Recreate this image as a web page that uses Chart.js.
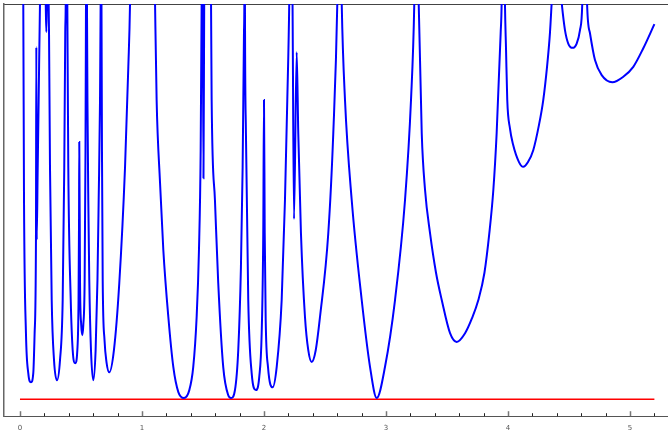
<!DOCTYPE html>
<html>
<head>
<meta charset="utf-8">
<script src="https://cdn.jsdelivr.net/npm/chart.js@4"></script>
<style>
html,body{margin:0;padding:0;background:#fff;}
#c{display:block;}
</style>
</head>
<body>
<canvas id="c" width="668" height="432"></canvas>
<script>
// Blue curve (values above 10 lie off the top of the plot)
const curveX = [
0.000,0.027,0.033,0.049,0.068,0.090,0.109,0.120,0.131,0.134,0.137,0.145,0.153,0.164,0.189,0.211,0.216,0.220,0.227,0.235,
0.238,0.246,0.260,0.279,0.303,0.328,0.350,0.363,0.371,0.375,0.381,0.388,
0.396,0.416,0.432,0.453,0.470,0.480,0.484,0.486,0.492,0.502,0.511,0.519,0.530,0.537,0.541,0.545,0.549,
0.553,0.560,0.568,0.582,0.601,0.620,0.635,0.645,0.656,0.661,0.665,0.668,
0.672,0.678,0.693,0.709,0.732,0.770,0.814,0.861,0.888,0.902,0.906,1.004,1.102,1.107,
1.120,1.148,1.175,1.216,1.257,1.298,1.344,1.388,1.420,1.448,1.467,1.481,1.489,1.494,1.499,1.504,1.510,1.538,1.562,1.566,
1.571,1.598,1.625,1.666,1.707,1.730,1.762,1.789,1.811,1.825,1.836,1.839,1.842,1.844,
1.852,1.871,1.899,1.934,1.961,1.981,1.994,2.000,2.006,2.014,2.033,2.071,2.104,2.145,2.172,2.191,2.207,2.220,2.234,2.246,2.268,
2.281,2.303,2.336,2.363,2.391,2.424,2.459,2.527,2.568,2.601,2.619,2.637,
2.664,2.719,2.801,2.869,2.924,2.992,3.074,3.156,3.205,3.232,3.250,3.268,
3.293,3.320,3.361,3.410,3.457,3.525,3.580,3.648,3.705,3.757,3.807,3.847,3.880,3.907,3.940,3.948,3.961,3.975,
3.984,3.994,4.016,4.041,4.090,4.125,4.164,4.207,4.254,4.289,4.320,4.344,4.358,4.366,4.399,4.432,4.440,
4.467,4.494,4.529,4.563,4.590,4.609,4.629,4.648,
4.672,4.713,4.768,4.855,4.945,5.027,5.109,5.200
];
const curveY = [
14,10.03,5.04,1.67,0.66,0.43,0.66,1.67,4.08,8.91,4.03,5.80,7.57,10.03,14,10.03,9.29,10.03,14,10.03,
9.27,5.87,2.51,0.99,0.48,0.99,2.51,5.87,9.27,10.03,14,10.03,
5.87,2.51,1.24,0.91,1.24,2.51,4.53,6.51,3.01,1.87,1.62,1.87,3.01,6.30,10.03,14,10.03,
7.57,5.04,3.01,1.24,0.48,1.24,3.01,5.04,7.57,10.03,14,10.03,
6.30,3.01,1.49,0.94,0.68,1.24,2.94,5.87,8.41,10.03,11.11,14,11.11,10.03,
7.57,5.47,3.77,2.08,0.81,0.18,0.03,0.23,0.81,2.08,3.77,6.30,10.03,14,10.03,5.59,10.03,14,11.37,10.03,
7.57,5.04,2.94,0.81,0.10,0.03,0.23,1.24,3.34,5.87,9.27,10.03,14,10.03,
6.73,2.51,0.66,0.23,0.56,1.67,4.20,7.57,4.20,2.00,0.81,0.30,0.81,2.51,5.04,7.57,10.03,14,10.03,4.56,8.78,
6.73,4.20,2.08,1.24,0.94,1.24,2.08,4.20,6.73,10.03,14,10.03,
7.57,5.04,2.51,0.82,0.03,0.82,2.51,5.04,7.57,10.03,14,10.03,
6.73,5.30,4.20,3.20,2.51,1.67,1.45,1.67,2.05,2.51,3.20,4.20,5.30,6.73,9.27,10.03,14,10.03,
8.84,7.57,6.85,6.45,6.00,5.88,6.00,6.30,6.94,7.57,8.41,9.27,10.03,10.48,14,10.30,10.03,
9.34,9.00,8.89,9.00,9.34,10.03,14,10.03,
9.26,8.58,8.20,8.02,8.16,8.41,8.88,9.49
];
// Red reference line
const refX = [0, 5.2];
const refY = [0, 0];
// Axis ticks
const tickValues = [0,0.2,0.4,0.6,0.8,1,1.2,1.4,1.6,1.8,2,2.2,2.4,2.6,2.8,3,3.2,3.4,3.6,3.8,4,4.2,4.4,4.6,4.8,5,5.2];
const tickLabels = {0:'0',1:'1',2:'2',3:'3',4:'4',5:'5'};
const xMin = -0.131, xMax = 5.3115, yMin = -0.43, yMax = 10;

const isMajor = v => Math.abs(v - Math.round(v)) < 1e-9;

const blue = curveX.map((x,i)=>({x:x, y:curveY[i]}));
const red = refX.map((x,i)=>({x:x, y:refY[i]}));

// inward tick marks, placed with the x scale
const innerTicks = {
  id:'innerTicks',
  afterDraw(chart){
    const s = chart.scales.x, ctx = chart.ctx;
    ctx.save();
    tickValues.forEach(v=>{
      const px = Math.round(s.getPixelForValue(v)) + 0.5;
      const major = isMajor(v);
      ctx.beginPath();
      ctx.strokeStyle = major ? '#777' : '#222';
      ctx.lineWidth = major ? 1.5 : 1;
      ctx.moveTo(px, s.top);
      ctx.lineTo(px, s.top - (major ? 5 : 3));
      ctx.stroke();
    });
    ctx.restore();
  }
};

new Chart(document.getElementById('c'), {
  type: 'line',
  data: {
    datasets: [
      {data: blue, borderColor:'#0000ff', borderWidth:2, pointRadius:0, cubicInterpolationMode:'monotone', fill:false},
      {data: red, borderColor:'#ff0000', borderWidth:1.5, pointRadius:0, fill:false}
    ]
  },
  plugins:[innerTicks],
  options: {
    responsive:false, animation:false, devicePixelRatio:1,
    layout:{padding:{left:4, top:4, right:0, bottom:-8.6}},
    plugins:{legend:{display:false}, tooltip:{enabled:false}},
    scales:{
      x:{
        type:'linear', position:'bottom', min:xMin, max:xMax,
        afterBuildTicks: s => { s.ticks = tickValues.map(v=>({value:v})); },
        ticks:{
          autoSkip:false, maxRotation:0, padding:8,
          color:'#555', font:{family:'DejaVu Sans', size:7},
          callback: v => { const r = Math.round(v); return isMajor(v) && tickLabels[r] !== undefined ? tickLabels[r] : ''; }
        },
        grid:{drawOnChartArea:false, drawTicks:false},
        border:{display:true, color:'#555', width:1}
      },
      xTop:{
        type:'linear', position:'top', min:xMin, max:xMax, display:true,
        ticks:{display:false},
        grid:{drawOnChartArea:false, drawTicks:false},
        border:{display:true, color:'#444', width:1}
      },
      y:{
        type:'linear', position:'left', min:yMin, max:yMax, display:true,
        ticks:{display:false},
        grid:{drawOnChartArea:false, drawTicks:false},
        border:{display:true, color:'#666', width:1.5}
      }
    }
  }
});
</script>
</body>
</html>
